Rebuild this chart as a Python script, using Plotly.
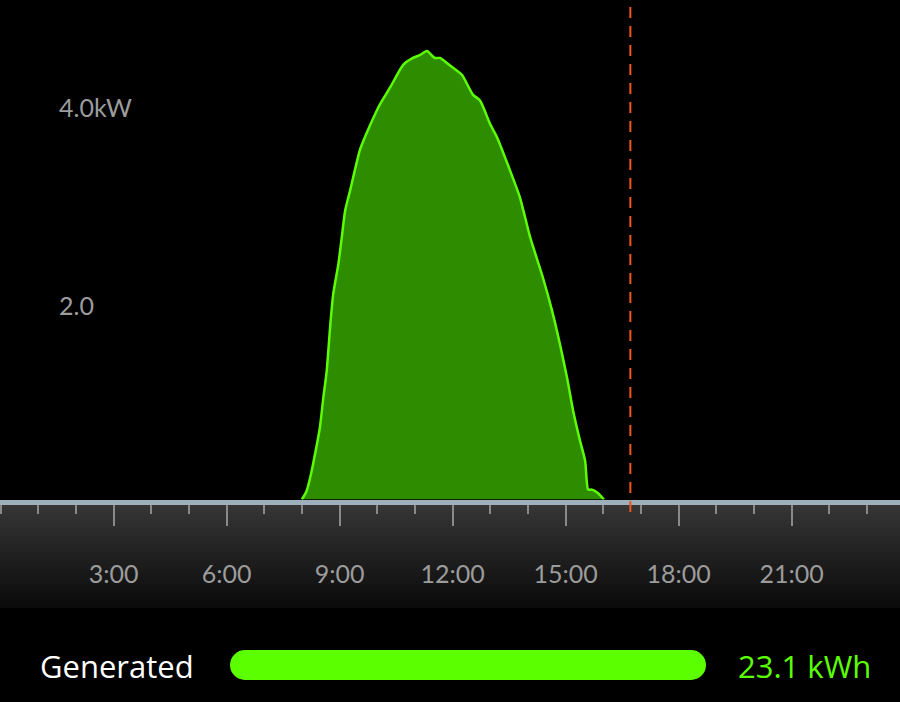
import plotly.graph_objects as go

# solar output over the day (hour of day, kW)
hours = [
    8.0, 8.12, 8.22, 8.35, 8.48, 8.57, 8.66, 8.75, 8.83, 8.97, 9.06,
    9.15, 9.28, 9.36, 9.54, 9.81, 10.07, 10.34, 10.69, 10.95, 11.14, 11.32,
    11.53, 11.67, 11.85, 12.12, 12.25, 12.54, 12.73, 13.0, 13.18, 13.53, 13.79,
    14.06, 14.4, 14.64, 14.85, 15.04, 15.2, 15.38, 15.52, 15.6, 15.7, 15.84,
    16.02,
]
power_kw = [
    0.0, 0.08, 0.22, 0.46, 0.73, 1.03, 1.30, 1.74, 2.07, 2.38, 2.65,
    2.92, 3.12, 3.25, 3.53, 3.78, 3.99, 4.16, 4.39, 4.46, 4.49, 4.53, 4.46,
    4.46, 4.41, 4.33, 4.29, 4.09, 4.03, 3.79, 3.66, 3.32, 3.05, 2.65, 2.24,
    1.91, 1.57, 1.23, 0.90, 0.60, 0.39, 0.10, 0.10, 0.07, 0.0,
]
now_hour = 16.72
generated_kwh = 23.1

tick_hours = [3, 6, 9, 12, 15, 18, 21]
tick_text = [f"{h}:00" for h in tick_hours]
y_labels = [(4.0, "4.0kW"), (2.0, "2.0")]

W, H = 900, 702
plot_bottom = 499.5  # px from top
px_per_kw = 99
px_per_hour = 37.67


def py(p):
    """pixel row -> paper y"""
    return 1 - p / H


def px(p):
    return p / W


fig = go.Figure()
fig.add_trace(
    go.Scatter(
        x=hours,
        y=power_kw,
        mode="lines",
        fill="tozeroy",
        fillcolor="#2e8c00",
        line={"color": "#5cff00", "width": 2.5, "shape": "spline", "smoothing": 0.6},
        hoverinfo="skip",
    )
)

shapes = []
# gradient band under the axis
band_top, band_bottom, steps = 504, 608, 26
for i in range(steps):
    t = i / (steps - 1)
    c = int(0x36 + (0x0b - 0x36) * t)
    y0 = band_top + (band_bottom - band_top) * i / steps
    y1 = band_top + (band_bottom - band_top) * (i + 1) / steps
    shapes.append(
        {
            "type": "rect", "xref": "paper", "yref": "paper",
            "x0": 0, "x1": 1, "y0": py(y1), "y1": py(y0),
            "fillcolor": f"rgb({c},{c},{c})", "line": {"width": 0},
            "layer": "below",
        }
    )

# current time marker
shapes.append(
    {
        "type": "line", "xref": "x", "yref": "paper",
        "x0": now_hour, "x1": now_hour, "y0": py(512), "y1": 1,
        "line": {"color": "#f0561c", "width": 2, "dash": "11px,8px"},
        "layer": "above",
    }
)

# rounded progress bar
bar_l, bar_r, bar_t, bar_b = 230, 706, 650, 680
rad = (bar_b - bar_t) / 2
green = "#5cff00"
shapes.append(
    {
        "type": "rect", "xref": "paper", "yref": "paper",
        "x0": px(bar_l + rad), "x1": px(bar_r - rad),
        "y0": py(bar_b), "y1": py(bar_t),
        "fillcolor": green, "line": {"width": 0},
    }
)
for cx in (bar_l + rad, bar_r - rad):
    shapes.append(
        {
            "type": "circle", "xref": "paper", "yref": "paper",
            "x0": px(cx - rad), "x1": px(cx + rad),
            "y0": py(bar_b), "y1": py(bar_t),
            "fillcolor": green, "line": {"width": 0},
        }
    )

annotations = [
    {
        "x": px(57), "y": val, "xref": "paper", "yref": "y", "text": txt,
        "showarrow": False, "xanchor": "left", "yanchor": "middle", "yshift": -3,
        "font": {"family": "Lato", "size": 25, "color": "#9c9c9c"},
    }
    for val, txt in y_labels
]
annotations += [
    {
        "x": px(38), "y": py(666), "xref": "paper", "yref": "paper",
        "text": "Generated", "showarrow": False, "xanchor": "left",
        "yanchor": "middle",
        "font": {"family": "Open Sans", "size": 31, "color": "#ffffff"},
    },
    {
        "x": px(873), "y": py(666), "xref": "paper", "yref": "paper",
        "text": f"{generated_kwh} kWh", "showarrow": False, "xanchor": "right",
        "yanchor": "middle",
        "font": {"family": "Open Sans", "size": 31, "color": green},
    },
]

fig.update_layout(
    width=W,
    height=H,
    margin={"l": 0, "r": 0, "t": 0, "b": 0},
    paper_bgcolor="#000000",
    plot_bgcolor="#000000",
    showlegend=False,
    shapes=shapes,
    annotations=annotations,
    xaxis={
        "range": [-0.5 / px_per_hour, (W - 0.5) / px_per_hour],
        "showgrid": False,
        "zeroline": False,
        "showline": True,
        "linecolor": "#9db0bc",
        "linewidth": 5,
        "tickmode": "array",
        "tickvals": tick_hours,
        "ticktext": tick_text,
        "ticks": "outside",
        "ticklen": 21,
        "tickwidth": 2,
        "tickcolor": "#8a8a8a",
        "ticklabelstandoff": 27,
        "tickfont": {"family": "Lato", "size": 25, "color": "#9c9c9c"},
        "minor": {
            "tickmode": "linear", "tick0": 0, "dtick": 1, "ticks": "outside",
            "ticklen": 9, "tickwidth": 2, "tickcolor": "#8a8a8a",
            "showgrid": False,
        },
        "fixedrange": True,
    },
    yaxis={
        "domain": [py(plot_bottom), 1],
        "range": [0, plot_bottom / px_per_kw],
        "visible": False,
        "fixedrange": True,
    },
)

fig.write_html(
    "out.html",
    config={"displayModeBar": False},
    post_script="document.body.style.margin='0';document.body.style.background='#000';",
)
